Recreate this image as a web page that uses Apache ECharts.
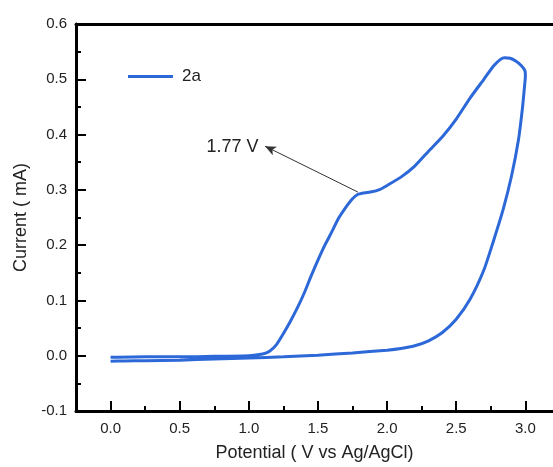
<!DOCTYPE html>
<html>
<head>
<meta charset="utf-8">
<script src="https://cdn.jsdelivr.net/npm/echarts@6/dist/echarts.min.js"></script>
<style>
html,body{margin:0;padding:0;background:#fff;}
#chart{width:553px;height:467px;}
</style>
</head>
<body>
<div id="chart"></div>
<script>
// Data (Potential in V vs Ag/AgCl, Current in mA)
var seriesName = '2a';
var lowerBranch = [
  [0.00,-0.010],[0.10,-0.0095],[0.25,-0.009],[0.50,-0.008],[0.75,-0.006],[1.00,-0.004],
  [1.25,-0.002],[1.50,0.001],[1.75,0.005],[2.00,0.010],[2.10,0.013],[2.20,0.018],
  [2.30,0.027],[2.40,0.042],[2.50,0.066],[2.60,0.102],[2.70,0.155],[2.77,0.208],
  [2.84,0.265],[2.90,0.325],[2.95,0.390],[2.98,0.450],[2.995,0.490],[3.00,0.505]
];
var upperBranch = [
  [2.998,0.515],[2.97,0.525],[2.93,0.533],[2.89,0.538],[2.85,0.539],[2.82,0.536],
  [2.77,0.524],[2.70,0.500],[2.60,0.466],[2.50,0.428],[2.40,0.396],[2.30,0.370],
  [2.20,0.343],[2.10,0.323],[2.00,0.308],[1.95,0.301],[1.88,0.296],[1.82,0.294],
  [1.79,0.292],[1.75,0.284],[1.70,0.268],[1.65,0.249],[1.60,0.224],[1.55,0.200],
  [1.50,0.173],[1.45,0.144],[1.40,0.113],[1.35,0.086],[1.30,0.062],[1.25,0.040],
  [1.20,0.020],[1.15,0.008],[1.10,0.003],[1.00,0.000],[0.75,-0.001],[0.50,-0.002],
  [0.25,-0.002],[0.00,-0.003]
];
var xMajorTicks = [0.0,0.5,1.0,1.5,2.0,2.5,3.0];
var xMinorTicks = [0.25,0.75,1.25,1.75,2.25,2.75];
var annotationText = '1.77 V';
var annotationPoint = [1.789,0.296];
var annotationArrowTip = [1.117,0.379];
var annotationTextAt = [1.07,0.378];

var curve = lowerBranch.concat(upperBranch);
var FONT = 'Liberation Sans, Arial, sans-serif';
var chart = echarts.init(document.getElementById('chart'));
chart.setOption({
  animation:false,
  backgroundColor:'#fff',
  grid:{left:76,right:0,top:24,bottom:54,containLabel:false},
  legend:{
    left:128, top:68, padding:0, icon:'rect', itemWidth:45, itemHeight:3, itemGap:10,
    textStyle:{fontFamily:FONT,fontSize:17,color:'#222',padding:[0,0,0,4]},
    data:[seriesName]
  },
  xAxis:[
    {
      type:'value', position:'bottom', min:-0.25, max:3.2,
      name:'Potential ( V vs Ag/AgCl)', nameLocation:'middle', nameGap:33,
      nameTextStyle:{fontFamily:FONT,fontSize:18,color:'#222'},
      axisLine:{show:true,onZero:false,lineStyle:{color:'#000',width:3}},
      axisTick:{show:false},
      axisLabel:{show:true,customValues:xMajorTicks,margin:10,fontFamily:FONT,fontSize:15,color:'#222',
        formatter:function(v){return v.toFixed(1);}},
      splitLine:{show:false}
    },
    {
      type:'value', position:'bottom', min:-0.25, max:3.2,
      axisLine:{show:false,onZero:false},
      axisTick:{show:true,inside:true,length:10,customValues:xMajorTicks,lineStyle:{color:'#000',width:2}},
      axisLabel:{show:false},
      splitLine:{show:false}
    },
    {
      type:'value', position:'bottom', min:-0.25, max:3.2,
      axisLine:{show:false,onZero:false},
      axisTick:{show:true,inside:true,length:5,customValues:xMinorTicks,lineStyle:{color:'#000',width:2}},
      axisLabel:{show:false},
      splitLine:{show:false}
    },
    {
      type:'value', position:'top', min:-0.25, max:3.2,
      axisLine:{show:true,onZero:false,lineStyle:{color:'#000',width:3}},
      axisTick:{show:false}, axisLabel:{show:false}, splitLine:{show:false}
    }
  ],
  yAxis:{
    type:'value', min:-0.1, max:0.6, interval:0.1,
    name:'Current ( mA)', nameLocation:'middle', nameGap:44,
    nameTextStyle:{fontFamily:FONT,fontSize:18,color:'#222'},
    axisLine:{show:true,onZero:false,lineStyle:{color:'#000',width:3}},
    axisTick:{show:true,inside:true,length:10,lineStyle:{color:'#000',width:2}},
    minorTick:{show:true,splitNumber:2,length:5,lineStyle:{color:'#000',width:2}},
    axisLabel:{margin:9,fontFamily:FONT,fontSize:15,color:'#222',
      formatter:function(v){return v.toFixed(1);}},
    splitLine:{show:false}
  },
  series:[{
    name:seriesName, type:'line', xAxisIndex:0, data:curve,
    showSymbol:false, smooth:0.2,
    lineStyle:{color:'#2c68d8',width:3},
    itemStyle:{color:'#2c68d8'},
    markLine:{
      silent:true, symbol:['none','arrow'], symbolSize:[7,11],
      lineStyle:{color:'#333',width:1,type:'solid'},
      label:{show:false},
      data:[[{coord:annotationPoint},{coord:annotationArrowTip}]]
    },
    markPoint:{
      silent:true, symbol:'circle', symbolSize:0,
      label:{show:true,position:'left',distance:0,formatter:annotationText,
        fontFamily:FONT,fontSize:18,color:'#222'},
      data:[{coord:annotationTextAt}]
    }
  }]
});
</script>
</body>
</html>
